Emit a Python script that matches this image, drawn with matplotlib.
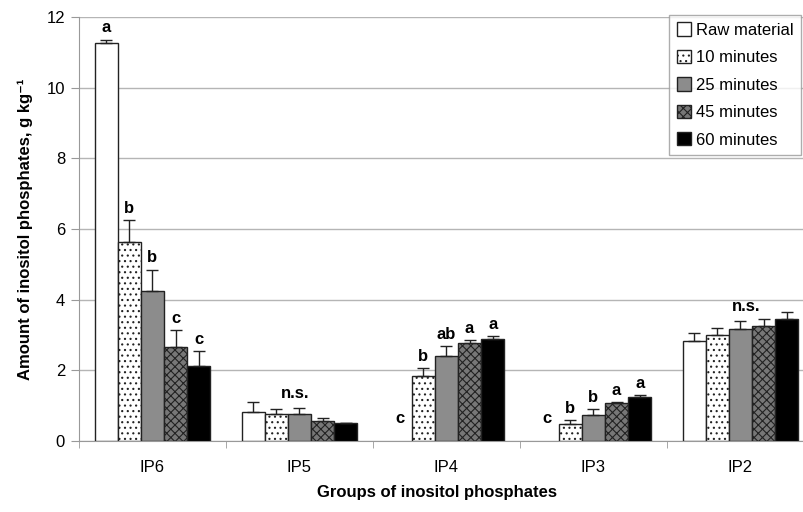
import numpy as np
import matplotlib.pyplot as plt

plt.rcParams['font.family'] = ['Liberation Sans', 'DejaVu Sans']
plt.rcParams['hatch.linewidth'] = 0.8

groups = ["IP6", "IP5", "IP4", "IP3", "IP2"]
series = ["Raw material", "10 minutes", "25 minutes", "45 minutes", "60 minutes"]

# mean values per series (one value per group)
raw = [11.26, 0.83, 0.0, 0.0, 2.84]
m10 = [5.62, 0.77, 1.84, 0.49, 3.00]
m25 = [4.25, 0.77, 2.41, 0.74, 3.17]
m45 = [2.65, 0.57, 2.76, 1.08, 3.25]
m60 = [2.12, 0.50, 2.88, 1.25, 3.45]

# upper error bars
raw_err = [0.10, 0.27, 0.0, 0.0, 0.21]
m10_err = [0.63, 0.14, 0.23, 0.10, 0.21]
m25_err = [0.60, 0.17, 0.28, 0.16, 0.24]
m45_err = [0.49, 0.09, 0.10, 0.03, 0.20]
m60_err = [0.43, 0.02, 0.10, 0.06, 0.21]

# significance letters
raw_lab = ["a", "", "c", "c", ""]
m10_lab = ["b", "", "b", "b", ""]
m25_lab = ["b", "", "ab", "b", ""]
m45_lab = ["c", "", "a", "a", ""]
m60_lab = ["c", "", "a", "a", ""]

values = [raw, m10, m25, m45, m60]
errors = [raw_err, m10_err, m25_err, m45_err, m60_err]
letters = [raw_lab, m10_lab, m25_lab, m45_lab, m60_lab]

faces = ["white", "white", "#8c8c8c", "#777777", "black"]
hatches = [None, "...", None, "xxxx", None]

fig = plt.figure(figsize=(8.04, 5.12), dpi=100)
ax = fig.add_axes([79 / 804, 71 / 512, 735 / 804, 424 / 512])

x = np.arange(len(groups))
w = 0.157
for i in range(5):
    pos = x + (i - 2) * w
    v = np.array(values[i])
    err = np.array(errors[i])
    mask = v > 0
    ax.bar(pos[mask], v[mask], w, color=faces[i], edgecolor="#222222",
           hatch=hatches[i], linewidth=1.0, label=series[i], zorder=3)
    ax.errorbar(pos[mask], v[mask], yerr=[np.zeros(mask.sum()), err[mask]],
                fmt="none", ecolor="#222222", elinewidth=1.0, capsize=4,
                capthick=1.0, zorder=4)
    for j in range(len(groups)):
        if letters[i][j]:
            top = values[i][j] + errors[i][j]
            if values[i][j] == 0:
                top = 0.3
            ax.annotate(letters[i][j], (pos[j], top), xytext=(0, 3),
                        textcoords="offset points", ha="center", va="bottom",
                        fontsize=12, fontweight="bold")

ax.text(x[1] - 0.03, 1.12, "n.s.", ha="center", va="bottom", fontsize=12, fontweight="bold")
ax.text(x[4] + 0.04, 3.6, "n.s.", ha="center", va="bottom", fontsize=12, fontweight="bold")

ax.set_xlim(-0.5, 4.5)
ax.set_ylim(0, 12)
ax.set_yticks(np.arange(0, 13, 2))
ax.yaxis.grid(True, color="#b5b5b5", linewidth=1.0, zorder=0)
ax.set_axisbelow(True)

ax.set_xticks(x)
ax.set_xticklabels(groups)
ax.set_xticks(np.arange(-0.5, 5, 1), minor=True)
ax.tick_params(axis="x", which="major", length=0, pad=14, labelsize=12)
ax.tick_params(axis="x", which="minor", length=5, color="#999999", direction="out")
ax.tick_params(axis="y", length=6, color="#999999", labelsize=12, pad=4)

for s in ["top", "right"]:
    ax.spines[s].set_visible(False)
ax.spines["left"].set_color("#999999")
ax.spines["bottom"].set_color("#999999")

ax.set_ylabel("Amount of inositol phosphates, g kg\u207b\u00b9", fontsize=12,
              fontweight="bold", labelpad=10)
fig.text(437 / 804, 1 - 493 / 512, "Groups of inositol phosphates", ha="center",
         va="center", fontsize=12, fontweight="bold")

leg = ax.legend(loc="upper right", bbox_to_anchor=(801 / 804, 1 - 15 / 512),
                bbox_transform=fig.transFigure, fancybox=False, fontsize=12,
                handlelength=0.85, handleheight=0.85, handletextpad=0.3,
                labelspacing=0.72, borderpad=0.45, borderaxespad=0)
leg.get_frame().set_edgecolor("#999999")
leg.get_frame().set_linewidth(1.0)

fig.savefig("out.png", dpi=100)
